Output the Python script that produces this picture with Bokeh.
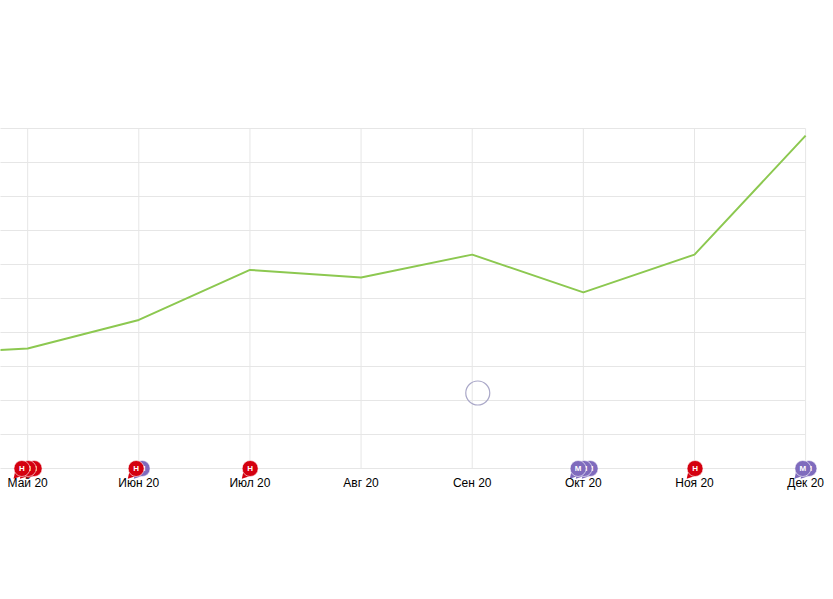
from bokeh.plotting import figure
from bokeh.models import FixedTicker, Range1d
from bokeh.core.properties import value
from bokeh.embed import file_html
from bokeh.resources import INLINE

months = [1, 2, 3, 4, 5, 6, 7, 8]
month_labels = ["Май 20", "Июн 20", "Июл 20", "Авг 20", "Сен 20", "Окт 20", "Ноя 20", "Дек 20"]
line_x = [0, 1, 2, 3, 4, 5, 6, 7, 8]
line_y = [3.35, 3.53, 4.37, 5.84, 5.62, 6.29, 5.18, 6.29, 9.79]
grid_levels = [0, 1, 2, 3, 4, 5, 6, 7, 8, 9, 10]

# flags, back to front
flag_x = [1.058, 1.005, 0.948, 2.03, 1.976, 3.002, 6.061, 6.007, 5.953, 7.005, 8.03, 7.975]
flag_letter = ["Н", "Н", "Н", "М", "Н", "Н", "М", "М", "М", "Н", "М", "М"]
flag_colors = {"Н": "#d4000f", "М": "#7f6bbd"}

ring_x = [5.05]
ring_y = [2.22]

GRID = "#e6e6e6"
FONT = "Liberation Sans"

p = figure(width=833, height=599, output_backend="svg", toolbar_location=None,
           x_range=Range1d(0.7555, 8.2509), y_range=Range1d(-3.853, 13.765),
           min_border=0, min_border_left=0, min_border_right=0,
           min_border_top=0, min_border_bottom=0)
p.outline_line_color = None
p.background_fill_color = "white"
p.yaxis.visible = False
p.grid.visible = False

ax = p.xaxis[0]
ax.fixed_location = 0
ax.ticker = FixedTicker(ticks=months)
ax.major_label_overrides = dict(zip(months, month_labels))
ax.axis_line_color = None
ax.major_tick_line_color = None
ax.minor_tick_line_color = None
ax.major_label_standoff = 1
ax.major_label_text_font = FONT
ax.major_label_text_font_size = "12px"
ax.major_label_text_color = "#000000"

x_left = line_x[0]
x_right = months[-1]
p.segment(x0=[x_left] * len(grid_levels), y0=grid_levels,
          x1=[x_right] * len(grid_levels), y1=grid_levels,
          line_color=GRID, line_width=1)
p.segment(x0=months, y0=[grid_levels[0]] * len(months),
          x1=months, y1=[grid_levels[-1]] * len(months),
          line_color=GRID, line_width=1)

p.line(line_x, line_y, line_color="#8cc850", line_width=2)
p.scatter(ring_x, ring_y, marker="circle", size=24, fill_color=None,
          line_color="#aaa8c8", line_width=1.2)

for fx, letter in zip(flag_x, flag_letter):
    c = flag_colors[letter]
    p.scatter([fx - 0.047], [-0.2], marker="triangle", size=8, angle=2.4,
              fill_color=c, line_color=None)
    p.scatter([fx], [0], marker="circle", size=16, fill_color=c,
              line_color="white", line_width=0.6)
    p.text([fx], [0], text=[letter], text_color="white", text_font=value(FONT),
           text_font_size="8px", text_font_style="bold",
           text_align="center", text_baseline="middle")

open("out.html", "w").write(file_html(p, INLINE))
